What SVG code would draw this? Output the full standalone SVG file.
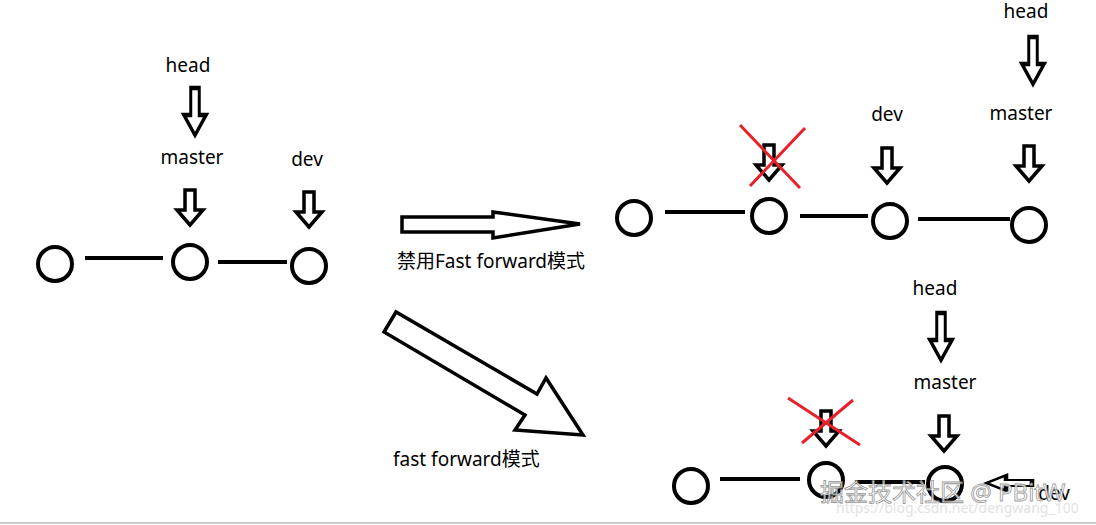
<svg xmlns="http://www.w3.org/2000/svg" width="1096" height="525" viewBox="0 0 1096 525">
<style>
.c{fill:none;stroke:#000;stroke-width:4}
.l{stroke:#000;stroke-width:4}
.a{fill:#fff;stroke:#000;stroke-width:3.5;stroke-linejoin:miter}
.x{stroke:#e8202a;stroke-width:3}
text{font-family:"Noto Sans","Noto Sans CJK SC",sans-serif;font-size:19px;fill:#000}
.t{text-anchor:middle}
</style>
<defs>
<path id="da" class="a" d="M-5,0H5V20H13L0,35L-13,20H-5Z"/>
</defs>
<rect width="1096" height="525" fill="#fff"/>
<g id="connectors">
<line class="l" x1="85" y1="258" x2="163" y2="258"/>
<line class="l" x1="218" y1="262" x2="287" y2="262"/>
<line class="l" x1="665" y1="212" x2="745" y2="212"/>
<line class="l" x1="800" y1="216" x2="868" y2="216"/>
<line class="l" x1="918" y1="219" x2="1010" y2="219"/>
<line class="l" x1="720" y1="479" x2="800" y2="479"/>
<line class="l" x1="855" y1="482" x2="925" y2="482"/>
<polygon class="a" points="402,217 493,217 493,212 580,224 493,238 493,232 402,232"/>
<polygon class="a" points="384,332 396,312 537,394 546,378 583,435 515,430 525,415"/>
</g>
<g id="left">
<circle class="c" cx="55" cy="264" r="17"/>
<circle class="c" cx="190" cy="262" r="17"/>
<circle class="c" cx="309" cy="266" r="17"/>
<text class="t" x="188" y="72">head</text>
<use href="#da" transform="translate(195,88) scale(0.85,1.35)"/>
<text class="t" x="192" y="164">master</text>
<use href="#da" transform="translate(190,190)"/>
<text class="t" x="307" y="166">dev</text>
<use href="#da" transform="translate(309,192)"/>
</g>
<g id="topright">
<circle class="c" cx="634" cy="218" r="17"/>
<circle class="c" cx="769" cy="216" r="17"/>
<circle class="c" cx="890" cy="221" r="17"/>
<circle class="c" cx="1029" cy="225" r="17"/>
<use href="#da" transform="translate(769,145)"/>
<line class="x" x1="740" y1="125" x2="800" y2="188"/>
<line class="x" x1="805" y1="128" x2="750" y2="186"/>
<text class="t" x="887" y="121">dev</text>
<use href="#da" transform="translate(887,148)"/>
<text class="t" x="1021" y="120">master</text>
<use href="#da" transform="translate(1029,146)"/>
<text class="t" x="1026" y="18">head</text>
<use href="#da" transform="translate(1033,37) scale(0.85,1.35)"/>
</g>
<g id="bottomright">
<circle class="c" cx="691" cy="486" r="17"/>
<circle class="c" cx="826" cy="480" r="17"/>
<circle class="c" cx="945" cy="484" r="17"/>
<use href="#da" transform="translate(826,411)"/>
<line class="x" x1="788" y1="398" x2="860" y2="445"/>
<line class="x" x1="853" y1="400" x2="802" y2="443"/>
<text class="t" x="935" y="295">head</text>
<use href="#da" transform="translate(941,313) scale(0.85,1.35)"/>
<text class="t" x="945" y="389">master</text>
<use href="#da" transform="translate(944,416)"/>
<use href="#da" transform="translate(1032,483) rotate(90) scale(0.6,1.3)"/>
<text class="t" x="1054" y="500">dev</text>
</g>
<text x="397" y="268">禁用Fast forward模式</text>
<text x="393" y="466">fast forward模式</text>
<g id="watermark" opacity="0.85">
<text x="820" y="501" style="font-size:24px;fill:#fff;stroke:#888;stroke-width:0.8">掘金技术社区 @ PBitW</text>
<text x="836" y="513" style="font-size:14px;fill:#ddd">https://blog.csdn.net/dengwang_100</text>
</g>
<line x1="0" y1="523" x2="1096" y2="523" stroke="#ccc" stroke-width="2"/>
</svg>
